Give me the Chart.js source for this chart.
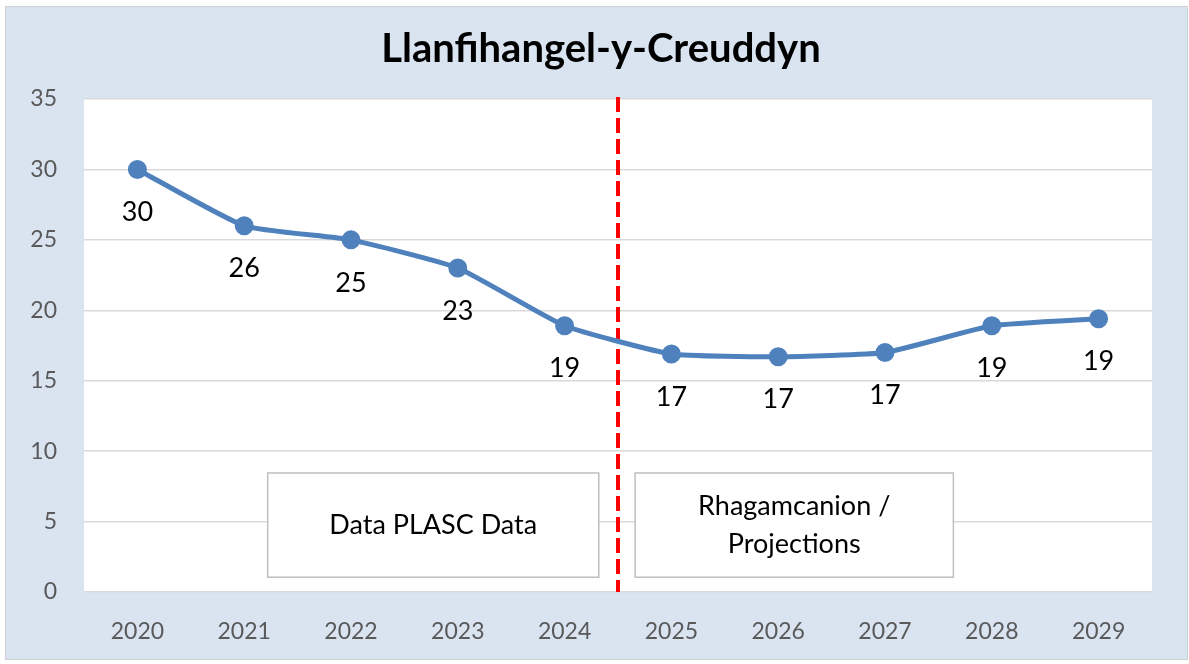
<!DOCTYPE html>
<html>
<head>
<meta charset="utf-8">
<script src="https://cdn.jsdelivr.net/npm/chart.js@4"></script>
<style>
  html, body { margin: 0; padding: 0; background: #fff; }
  #wrap { width: 1189px; height: 664px; }
</style>
</head>
<body>
<div id="wrap"><canvas id="schoolChart" width="1189" height="664"></canvas></div>
<script>
// --- Data ---
const years = ["2020", "2021", "2022", "2023", "2024", "2025", "2026", "2027", "2028", "2029"];
const pupils = [30, 26, 25, 23, 18.9, 16.9, 16.7, 17.0, 18.9, 19.4];
const yTicks = [0, 5, 10, 15, 20, 25, 30, 35];
const chartTitle = "Llanfihangel-y-Creuddyn";
const boxLeftText = ["Data PLASC Data"];
const boxRightText = ["Rhagamcanion /", "Projections"];

const FONT = "Lato, 'Open Sans', sans-serif";

// --- Background, title, plot area, divider and text boxes ---
const decorPlugin = {
  id: "decor",
  beforeDraw(chart) {
    const { ctx, chartArea: a, width, height } = chart;
    ctx.save();
    ctx.fillStyle = "#fff";
    ctx.fillRect(0, 0, width, height);
    ctx.fillStyle = "#dae3f0";
    ctx.fillRect(5, 6, width - 6, height - 10);
    ctx.strokeStyle = "#d0d0d0";
    ctx.lineWidth = 1;
    ctx.strokeRect(5.5, 6.5, width - 7, height - 11);
    ctx.fillStyle = "#fff";
    ctx.fillRect(a.left, a.top, a.right - a.left, a.bottom - a.top);

    // title, centred a bit right of the canvas middle like the original
    ctx.fillStyle = "#000";
    ctx.font = "bold 40px " + FONT;
    ctx.textAlign = "center";
    ctx.textBaseline = "middle";
    ctx.fillText(chartTitle, 601, 49);
    ctx.restore();
  },
  beforeDatasetsDraw(chart) {
    const { ctx, chartArea: a, scales } = chart;
    const x = scales.x;
    const y = scales.y;
    const step = x.getPixelForValue(1) - x.getPixelForValue(0);
    const yTop = y.getPixelForValue(8.45);
    const yBot = y.getPixelForValue(1.05);

    // text boxes
    function box(x0, x1, lines) {
      ctx.save();
      ctx.fillStyle = "#fff";
      ctx.fillRect(x0, yTop, x1 - x0, yBot - yTop);
      ctx.strokeStyle = "#bfbfbf";
      ctx.lineWidth = 1.5;
      ctx.strokeRect(x0, yTop, x1 - x0, yBot - yTop);
      ctx.fillStyle = "#000";
      ctx.font = "27px " + FONT;
      ctx.textAlign = "center";
      ctx.textBaseline = "middle";
      const lh = 38;
      const cy = (yTop + yBot) / 2 - (lines.length - 1) * lh / 2;
      lines.forEach((t, i) => ctx.fillText(t, (x0 + x1) / 2, cy + i * lh));
      ctx.restore();
    }
    box(x.getPixelForValue(1) + 0.22 * step, x.getPixelForValue(4) + 0.32 * step, boxLeftText);
    box(x.getPixelForValue(5) - 0.34 * step, x.getPixelForValue(7) + 0.64 * step, boxRightText);

    // red dashed divider between 2024 and 2025
    const mid = x.getPixelForValue(4.5);
    ctx.save();
    ctx.strokeStyle = "#ff0000";
    ctx.lineWidth = 4;
    ctx.setLineDash([15, 6]);
    ctx.beginPath();
    ctx.moveTo(mid, a.top - 2);
    ctx.lineTo(mid, a.bottom);
    ctx.stroke();
    ctx.restore();
  },
  afterDatasetsDraw(chart) {
    // value labels under each point
    const { ctx } = chart;
    const meta = chart.getDatasetMeta(0);
    ctx.save();
    ctx.fillStyle = "#000";
    ctx.font = "27px " + FONT;
    ctx.textAlign = "center";
    ctx.textBaseline = "middle";
    meta.data.forEach((pt, i) => {
      ctx.fillText(Math.round(pupils[i]).toString(), pt.x, pt.y + 43);
    });
    ctx.restore();
  }
};

// --- Chart.js setup ---
const ctx = document.getElementById("schoolChart").getContext("2d");
new Chart(ctx, {
  type: "line",
  data: {
    labels: years,
    datasets: [{
      data: pupils,
      borderColor: "#4f81bd",
      backgroundColor: "#4f81bd",
      borderWidth: 5,
      pointRadius: 7,
      pointHoverRadius: 7,
      tension: 0.15,
      fill: false
    }]
  },
  options: {
    responsive: false,
    animation: false,
    layout: { padding: { left: 0, right: 37, top: 99, bottom: 0 } },
    plugins: {
      legend: { display: false },
      tooltip: { enabled: false },
      title: { display: false }
    },
    scales: {
      x: {
        offset: true,
        grid: { display: false, drawTicks: false },
        border: { display: false },
        ticks: { color: "#595959", font: { family: FONT, size: 23 }, padding: 26, maxRotation: 0 },
        afterFit: s => { s.height = 72; }
      },
      y: {
        min: 0,
        max: 35,
        afterBuildTicks: s => { s.ticks = yTicks.map(v => ({ value: v })); },
        grid: { color: "#d9d9d9", lineWidth: 1.5, drawTicks: false },
        border: { display: false },
        ticks: { color: "#595959", font: { family: FONT, size: 23 }, padding: 27 },
        afterFit: s => { s.width = 84; }
      }
    }
  },
  plugins: [decorPlugin]
});
</script>
</body>
</html>
